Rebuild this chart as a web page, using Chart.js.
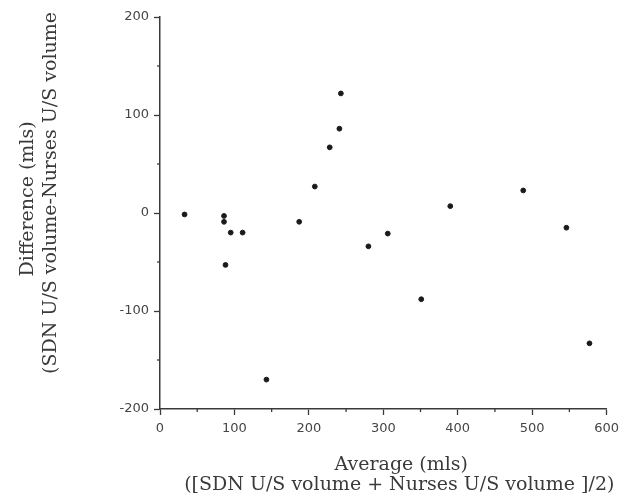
<!DOCTYPE html>
<html>
<head>
<meta charset="utf-8">
<script src="https://cdn.jsdelivr.net/npm/chart.js@4"></script>
<style>
  html, body { margin:0; padding:0; background:#fff; }
  #wrap { width:625px; height:499px; }
</style>
</head>
<body>
<div id="wrap"><canvas id="plot" width="625" height="499"></canvas></div>
<script>
// ===== Data =====
const avgValues  = [33, 86, 86, 95, 111, 88, 143, 187, 208, 228, 241, 243, 280, 306, 351, 390, 488, 546, 577];
const diffValues = [-1.5, -3, -9, -20, -20, -53, -170, -9, 27, 67, 86, 122, -34, -21, -88, 7, 23, -15, -133];

const xTitle = ['Average (mls)', '([SDN U/S volume + Nurses U/S volume ]/2)'];
const yTitle = ['Difference (mls)', '(SDN U/S volume-Nurses U/S volume'];

const inkColor = '#3a3a3a';
const serifFont = '19px "DejaVu Serif"';

// ===== Minor ticks halfway between labelled ticks =====
const minorTicks = {
    id: 'minorTicks',
    afterDraw(chart){
        const ctx = chart.ctx;
        const xs = chart.scales.x, ys = chart.scales.y;
        ctx.save();
        ctx.strokeStyle = inkColor;
        ctx.lineWidth = 1.3;
        for(let i=0;i<xs.ticks.length-1;i++){
            const v = (xs.ticks[i].value + xs.ticks[i+1].value)/2;
            const px = xs.getPixelForValue(v);
            ctx.beginPath(); ctx.moveTo(px, xs.top); ctx.lineTo(px, xs.top+3); ctx.stroke();
        }
        for(let i=0;i<ys.ticks.length-1;i++){
            const v = (ys.ticks[i].value + ys.ticks[i+1].value)/2;
            const py = ys.getPixelForValue(v);
            ctx.beginPath(); ctx.moveTo(ys.right, py); ctx.lineTo(ys.right-3, py); ctx.stroke();
        }
        ctx.restore();
    }
};

// ===== Axis titles (two lines each, serif like the print) =====
const axisTitles = {
    id: 'axisTitles',
    afterDraw(chart){
        const ctx = chart.ctx;
        const a = chart.chartArea;
        ctx.save();
        ctx.fillStyle = inkColor;
        ctx.font = serifFont;
        ctx.textAlign = 'center';
        ctx.textBaseline = 'alphabetic';
        const cx = (a.left + a.right)/2 + 18;
        ctx.fillText(xTitle[0], cx, a.bottom + 61);
        ctx.fillText(xTitle[1], cx - 2, a.bottom + 81);

        const cy = (a.top + a.bottom)/2 - 16;
        [[33, cy + 2], [56, cy - 4]].forEach(function(p, i){
            ctx.save();
            ctx.translate(p[0], p[1]);
            ctx.rotate(-Math.PI/2);
            ctx.fillText(yTitle[i], 0, 0);
            ctx.restore();
        });
        ctx.restore();
    }
};

new Chart(document.getElementById('plot').getContext('2d'), {
    type: 'scatter',
    data: {
        datasets: [{
            data: avgValues.map((x,i)=>({x:x, y:diffValues[i]})),
            backgroundColor: '#1a1a1a',
            borderColor: '#1a1a1a',
            pointRadius: 2.4,
            pointHoverRadius: 2.4
        }]
    },
    options: {
        responsive: false,
        animation: false,
        layout: { padding: { top:17, right:17, left:0, bottom:0 } },
        plugins: { legend:{ display:false }, tooltip:{ enabled:false } },
        scales: {
            x: {
                type: 'linear',
                min: 0, max: 600,
                afterFit(scale){ scale.height = 90; },
                grid: { drawOnChartArea:false, drawTicks:true, tickLength:6, color:inkColor, tickWidth:1.3 },
                border: { color:inkColor, width:1.5 },
                ticks: { stepSize:100, color:'#454545', padding:6, font:{ family:'"DejaVu Sans"', size:13 } }
            },
            y: {
                type: 'linear',
                min: -200, max: 200,
                afterFit(scale){ scale.width = 160; },
                grid: { drawOnChartArea:false, drawTicks:true, tickLength:6, color:inkColor, tickWidth:1.3 },
                border: { color:inkColor, width:1.5 },
                ticks: { stepSize:100, color:'#454545', padding:5, font:{ family:'"DejaVu Sans"', size:13 } }
            }
        }
    },
    plugins: [minorTicks, axisTitles]
});
</script>
</body>
</html>
